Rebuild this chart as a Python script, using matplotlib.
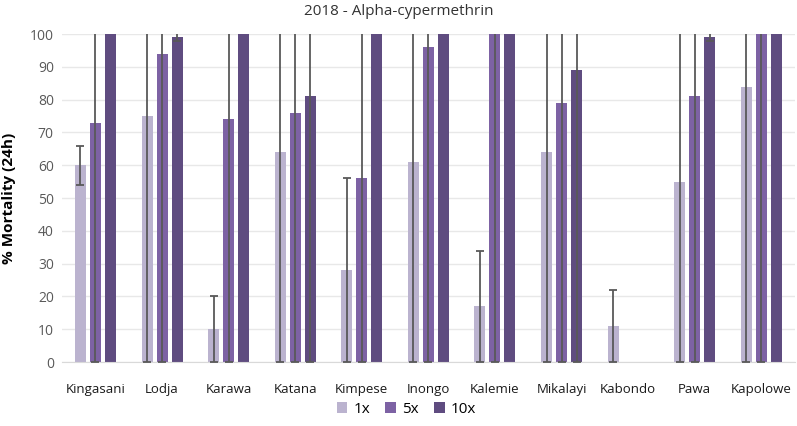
import numpy as np
import matplotlib.pyplot as plt

plt.rcParams['font.family'] = ['Open Sans', 'DejaVu Sans']

sites = ["Kingasani", "Lodja", "Karawa", "Katana", "Kimpese", "Inongo",
         "Kalemie", "Mikalayi", "Kabondo", "Pawa", "Kapolowe"]

# % mortality at 24h, per dose
mort_1x = [60, 75, 10, 64, 28, 61, 17, 64, 11, 55, 84]
mort_5x = [73, 94, 74, 76, 56, 96, 100, 79, np.nan, 81, 100]
mort_10x = [100, 99, 100, 81, 100, 100, 100, 89, np.nan, 99, 100]

# error bars (lower, upper); big ones get clipped by the axis, nan = no bar
err_1x_lo = [6, 75, 10, 64, 28, 61, 17, 64, 11, 55, 84]
err_1x_hi = [6, 60, 10, 60, 28, 60, 17, 60, 11, 60, 60]
err_5x_lo = [73, 94, 74, 76, 56, 96, 100, 79, np.nan, 81, 100]
err_5x_hi = [60, 60, 60, 60, 60, 60, 60, 60, np.nan, 60, 60]
err_10x_lo = [np.nan, 1, np.nan, 81, np.nan, np.nan, np.nan, 89, np.nan, 1, np.nan]
err_10x_hi = [np.nan, 2, np.nan, 60, np.nan, np.nan, np.nan, 60, np.nan, 2, np.nan]

colors = ["#bbb3cf", "#7d62a4", "#5f4c80"]
labels = ["1x", "5x", "10x"]

fig = plt.figure(figsize=(7.97, 4.26), dpi=100)
ax = fig.add_axes([0.078, 0.150, 0.919, 0.770])

x = np.arange(len(sites))
width = 0.165
offset = 0.225
series = [(mort_1x, err_1x_lo, err_1x_hi),
          (mort_5x, err_5x_lo, err_5x_hi),
          (mort_10x, err_10x_lo, err_10x_hi)]

for i, (vals, lo, hi) in enumerate(series):
    pos = x + (i - 1) * offset
    ax.bar(pos, vals, width, color=colors[i], label=labels[i], zorder=2)
    keep = ~np.isnan(np.array(lo, dtype=float))
    ax.errorbar(pos[keep], np.array(vals)[keep],
                yerr=[np.array(lo)[keep], np.array(hi)[keep]], fmt="none",
                ecolor="#595959", elinewidth=1.3, capsize=3, capthick=1.3, zorder=3)

ax.set_xlim(-0.5, len(sites) - 0.5)
ax.set_ylim(0, 100)
ax.set_yticks(range(0, 101, 10))
ax.set_xticks(x)
ax.set_xticklabels(sites, fontsize=9.5, color="#1a1a1a")
ax.tick_params(axis="y", labelsize=10, colors="#595959", length=0, pad=6)
ax.tick_params(axis="x", length=0, pad=15)
ax.grid(axis="y", color="#e8e8e8", linewidth=1, zorder=0)
for s in ["top", "right", "left"]:
    ax.spines[s].set_visible(False)
ax.spines["bottom"].set_color("#d9d9d9")

ax.set_ylabel("% Mortality (24h)", fontsize=11, fontweight="bold", labelpad=10)
fig.suptitle("2018 - Alpha-cypermethrin", fontsize=11, color="#333333", y=0.99)

ax.legend(loc="center", bbox_to_anchor=(0.47, -0.145), ncol=3, frameon=False,
          fontsize=11, handlelength=0.7, handleheight=0.7, handletextpad=0.4,
          columnspacing=1.0)

fig.savefig("out.png")
